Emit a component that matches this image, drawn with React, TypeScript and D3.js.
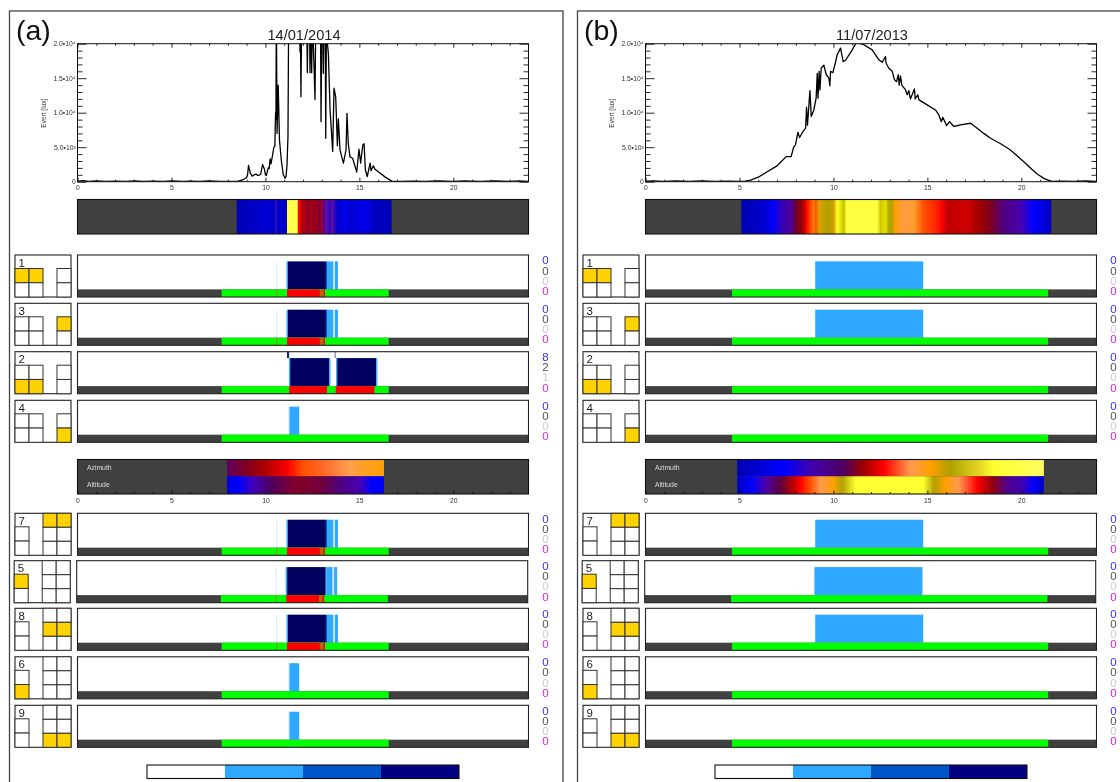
import React, { useRef, useEffect } from 'react';
import * as d3 from 'd3';

// hourly lux readings [hour, lux]; values above 2e4 run off the top
const luxA: [number, number][] = [
  [0, 80], [0.3, 150], [0.6, 40], [1, 100], [1.5, 30], [2, 90], [2.6, 40], [3, 110], [3.5, 30], [4, 90], [4.6, 50], [5, 100], [5.6, 30], [6, 90], [6.5, 40], [7, 100], [7.6, 40], [8.2, 50],
  [8.5, 60], [8.8, 250], [9.0, 600], [9.05, 1000], [9.1, 2350], [9.2, 1200], [9.3, 800], [9.4, 1000], [9.5, 1100], [9.6, 900], [9.7, 1000], [9.75, 1100], [9.85, 2500], [9.95, 1800], [10.0, 1000], [10.05, 900], [10.15, 2000], [10.2, 1900], [10.25, 3300], [10.3, 2600], [10.35, 3400], [10.45, 5000], [10.5, 5100], [10.54, 10000], [10.56, 9000], [10.58, 26000], [10.62, 7000], [10.68, 14000], [10.75, 6000], [10.85, 3000], [10.95, 1000], [11.05, 500], [11.1, 800], [11.15, 2500], [11.2, 6500], [11.25, 30000],
  [11.8, 30000], [11.84, 18800], [11.86, 24000], [11.89, 12300], [11.93, 24000], [12.2, 24000], [12.23, 15800], [12.27, 24000], [12.35, 24000], [12.37, 15800], [12.42, 24000], [12.46, 15800], [12.5, 24000], [12.64, 11900], [12.68, 24000], [12.93, 24000], [12.96, 8700], [13.0, 24000], [13.05, 24000], [13.08, 15700], [13.12, 24000], [13.18, 24000], [13.21, 6300], [13.25, 24000], [13.3, 20000], [13.35, 18500], [13.44, 10400], [13.58, 4400], [13.65, 13550], [13.74, 12300], [13.83, 5200], [13.88, 9100], [13.97, 4600], [14.15, 2700], [14.29, 4600], [14.34, 9900], [14.41, 5500], [14.5, 3600], [14.64, 3400], [14.86, 1400], [14.98, 4700], [15.07, 2700], [15.18, 5300], [15.25, 5500], [15.32, 1700], [15.42, 750], [15.57, 2700], [15.62, 1600], [15.74, 2300], [15.83, 1800], [16.01, 1450], [16.36, 700], [16.72, 90],
  [17.2, 40], [17.8, 90], [18.5, 40], [19.2, 100], [20, 50], [20.6, 110], [21.4, 40], [22.2, 100], [23, 60], [23.5, 120], [24, 60],
];
const luxB: [number, number][] = [
  [0, 70], [0.4, 130], [1, 50], [1.6, 100], [2.3, 50], [3, 110], [3.7, 50], [4.4, 80], [5, 40],
  [5.3, 90], [5.59, 240], [6.0, 650], [6.48, 1450], [7, 2300], [7.49, 3630], [7.75, 3630], [7.89, 5080], [7.98, 5300], [8.11, 7160], [8.2, 6400], [8.34, 7100], [8.52, 7750], [8.57, 10800], [8.62, 8200], [8.75, 13200], [8.82, 9440], [8.96, 10400], [9.08, 12100], [9.14, 15700], [9.18, 12100], [9.24, 16000], [9.28, 13300], [9.35, 16450], [9.49, 16900], [9.62, 15500], [9.76, 15000], [9.81, 13900], [9.85, 16000], [9.97, 15800], [10.1, 17200], [10.2, 18400], [10.38, 19360], [10.52, 17400], [10.64, 17600], [10.78, 18150], [11.0, 19100], [11.18, 20000],
  [11.35, 20100], [11.62, 19850], [12.06, 19100], [12.42, 17660], [12.6, 17300], [12.77, 18150], [12.8, 17200], [12.95, 16450], [13.13, 16000], [13.25, 14760], [13.36, 14500], [13.45, 15500], [13.5, 14000], [13.57, 15340], [13.64, 14000], [13.84, 13300], [13.93, 12600], [14.01, 13200], [14.1, 12000], [14.31, 13450], [14.35, 12000], [14.49, 12600], [14.55, 11860], [14.99, 11130], [15.43, 10400], [15.61, 9680], [15.74, 8700], [15.82, 9340], [16.02, 8130], [16.18, 8700], [16.41, 8000], [16.76, 8230], [17.3, 8470], [17.65, 7740], [18.0, 7000], [18.36, 6290], [18.9, 5500], [19.42, 4600], [19.8, 3700], [20.13, 2900], [20.5, 1950], [20.84, 1110], [21.2, 480], [21.46, 190], [21.64, 50],
  [22.2, 80], [22.8, 40], [23.4, 100], [24, 60],
];

// colour strips: [hour, colour] stops
const irradianceA: [number, string][] = [
  [8.47, '#0000b4'], [9.5, '#0000c8'], [10.0, '#0000d4'], [10.52, '#0000c8'], [10.56, '#8020a0'], [10.6, '#0000c8'], [11.15, '#0000d0'], [11.17, '#ffff50'], [11.69, '#ffff50'], [11.72, '#ffa000'], [11.75, '#ff0000'], [11.88, '#ff0000'], [11.9, '#b00010'], [12.2, '#a00018'], [12.3, '#800030'], [12.4, '#b00010'], [12.6, '#900020'], [12.75, '#a00010'], [12.85, '#700040'], [13.0, '#a00020'], [13.1, '#6000a0'], [13.3, '#5a10a0'], [13.4, '#3000c0'], [13.55, '#5a10a0'], [13.7, '#3000c0'], [13.85, '#0000d0'], [14.2, '#0000e0'], [14.3, '#0000ff'], [14.4, '#0000d0'], [15.0, '#0000e0'], [15.5, '#0000f0'], [15.6, '#0000c8'], [16.72, '#0000b4'],
];
const irradianceB: [number, string][] = [
  [5.09, '#0000b0'], [6.3, '#0000d0'], [6.83, '#0000ff'], [7.18, '#3000c0'], [7.8, '#500090'], [8.04, '#700020'], [8.43, '#b00000'], [8.55, '#ff0000'], [8.96, '#ff8000'], [9.05, '#ff5000'], [9.23, '#e0a000'], [9.67, '#b0a000'], [10.02, '#d0a000'], [10.2, '#ffff30'], [10.38, '#e8e800'], [10.55, '#c0c000'], [10.7, '#ffff40'], [12.33, '#ffff40'], [12.5, '#d0c800'], [12.77, '#e0e000'], [12.95, '#b0a800'], [13.18, '#c0a000'], [13.25, '#ffa000'], [13.75, '#ff9a40'], [14.28, '#ffa030'], [14.8, '#ff5000'], [15.52, '#ff2000'], [15.79, '#ff0000'], [16.05, '#c00000'], [17.1, '#d00000'], [17.8, '#a00000'], [18.36, '#800020'], [19.07, '#500080'], [19.96, '#4800b0'], [20.67, '#0000ff'], [21.59, '#0000c0'],
];
const azimuthA: [number, string][] = [
  [7.96, '#600060'], [9.0, '#800020'], [10, '#b00000'], [11, '#f00000'], [11.2, '#ff0000'], [12, '#ff5000'], [13.3, '#ff7030'], [14.5, '#ffa050'], [15, '#ffa030'], [16.31, '#ffa000'],
];
const altitudeA: [number, string][] = [
  [7.96, '#0000e0'], [8.6, '#0000ff'], [9.3, '#4000c0'], [10.3, '#500060'], [11.5, '#800030'], [12, '#800028'], [13, '#700040'], [14, '#500080'], [15, '#4800b0'], [15.7, '#0000ff'], [16.31, '#0000ff'],
];
const azimuthB: [number, string][] = [
  [4.88, '#0000b0'], [7.36, '#0000ff'], [8.78, '#4000b0'], [10.56, '#500060'], [11.62, '#a00000'], [12.69, '#ff0000'], [14.1, '#ff9a50'], [15.17, '#ffa000'], [16.2, '#b0a000'], [17.65, '#e0d020'], [18.5, '#ffff30'], [21.2, '#ffff60'],
];
const altitudeB: [number, string][] = [
  [4.88, '#0000c0'], [5.68, '#0000ff'], [6.47, '#5000a0'], [7.18, '#600040'], [7.89, '#c00000'], [8.25, '#ff0000'], [8.78, '#ff5000'], [9.31, '#ff9a50'], [10.02, '#ffa000'], [10.47, '#b0a000'], [11.18, '#ffff30'], [14.8, '#ffff30'], [15.34, '#b0a000'], [15.96, '#ffa000'], [16.67, '#ff9a50'], [17.65, '#ff0000'], [18.5, '#900010'], [19.25, '#500090'], [20.05, '#4000b0'], [20.67, '#0000ff'], [21.2, '#0000c0'],
];

// glare level bars: [start hour, end hour, level]
const levelColors = ['#cfe9ff', '#2ea9ff', '#0055c8', '#00005f'];
const legendColors = ['#ffffff', '#2ea9ff', '#0055c8', '#000080'];
const eventBarsA: [number, number, number][] = [
  [10.58, 10.63, 0], [11.12, 11.2, 1], [11.2, 13.22, 3], [13.22, 13.28, 2], [13.28, 13.62, 1], [13.62, 13.7, 0], [13.7, 13.86, 1],
];
const splitBarsA: [number, number, number][] = [
  [11.25, 11.32, 1], [11.32, 13.4, 3], [13.4, 13.46, 1], [13.76, 13.82, 1], [13.82, 15.9, 3], [15.9, 15.96, 1],
];
const shortBarsA: [number, number, number][] = [[11.22, 11.28, 0], [11.28, 11.8, 1]];
const bandBarsB: [number, number, number][] = [[9.03, 14.78, 1]];
const noBars: [number, number, number][] = [];

// status strip under each row: [start hour, end hour, colour]
const stripA: [number, number, string][] = [
  [7.67, 16.56, '#00ff00'], [10.58, 10.63, '#a08000'], [11.15, 12.9, '#ff0000'], [12.9, 13.08, '#c06000'], [13.08, 13.17, '#ff0000'],
];
const stripSplitA: [number, number, string][] = [[7.67, 16.56, '#00ff00'], [11.26, 13.28, '#ff0000'], [13.74, 15.8, '#ff0000']];
const stripGreenA: [number, number, string][] = [[7.67, 16.56, '#00ff00']];
const stripGreenB: [number, number, string][] = [[4.6, 21.43, '#00ff00']];

// short marks touching the top of row 2
const topMarksA: [number, number, string][] = [[11.15, 11.26, '#1a1a8c'], [13.68, 13.75, '#8c8cc8']];

const hourMajor = [0, 5, 10, 15, 20];
const hourMinor = [1, 2, 3, 4, 6, 7, 8, 9, 11, 12, 13, 14, 16, 17, 18, 19, 21, 22, 23];
const luxMajor = [0, 5000, 10000, 15000, 20000];
const luxMinor = [1000, 2000, 3000, 4000, 6000, 7000, 8000, 9000, 11000, 12000, 13000, 14000, 16000, 17000, 18000, 19000];
const luxLabels = ['0', '5.0•10³', '1.0•10⁴', '1.5•10⁴', '2.0•10⁴'];

const countColors = ['#3333ff', '#555555', '#cccccc', '#e020e0'];

const rowsA = [
  { station: '1', bars: eventBarsA, strip: stripA, counts: [0, 0, 0, 0] },
  { station: '3', bars: eventBarsA, strip: stripA, counts: [0, 0, 0, 0] },
  { station: '2', bars: splitBarsA, strip: stripSplitA, counts: [8, 2, 1, 0], marks: topMarksA },
  { station: '4', bars: shortBarsA, strip: stripGreenA, counts: [0, 0, 0, 0] },
  { station: '7', bars: eventBarsA, strip: stripA, counts: [0, 0, 0, 0] },
  { station: '5', bars: eventBarsA, strip: stripA, counts: [0, 0, 0, 0] },
  { station: '8', bars: eventBarsA, strip: stripA, counts: [0, 0, 0, 0] },
  { station: '6', bars: shortBarsA, strip: stripGreenA, counts: [0, 0, 0, 0] },
  { station: '9', bars: shortBarsA, strip: stripGreenA, counts: [0, 0, 0, 0] },
];
const rowsB = [
  { station: '1', bars: bandBarsB, strip: stripGreenB, counts: [0, 0, 0, 0] },
  { station: '3', bars: bandBarsB, strip: stripGreenB, counts: [0, 0, 0, 0] },
  { station: '2', bars: noBars, strip: stripGreenB, counts: [0, 0, 0, 0] },
  { station: '4', bars: noBars, strip: stripGreenB, counts: [0, 0, 0, 0] },
  { station: '7', bars: bandBarsB, strip: stripGreenB, counts: [0, 0, 0, 0] },
  { station: '5', bars: bandBarsB, strip: stripGreenB, counts: [0, 0, 0, 0] },
  { station: '8', bars: bandBarsB, strip: stripGreenB, counts: [0, 0, 0, 0] },
  { station: '6', bars: noBars, strip: stripGreenB, counts: [0, 0, 0, 0] },
  { station: '9', bars: noBars, strip: stripGreenB, counts: [0, 0, 0, 0] },
];

// highlighted cell [column, row] in each location sketch
const sketchCells: Record<string, [number, number][]> = {
  '1': [[0, 0], [1, 0]],
  '3': [[3, 0]],
  '2': [[0, 1], [1, 1]],
  '4': [[3, 1]],
  '7': [[2, 0], [3, 0]],
  '8': [[2, 1], [3, 1]],
  '9': [[2, 2], [3, 2]],
  '5': [[0, 0]],
  '6': [[0, 1]],
};
const upperStations = ['1', '3', '2', '4'];

const FONT = "'Liberation Sans', Arial, sans-serif";
const rowTops = [255, 303.3, 351.7, 400.3, 513.3, 560.7, 608.3, 656.8, 705.3];
const rowShift = [0, 0, 0, 0, 0, -0.8, 0, 0, 0];
const ROW_H = 42;
const STRIP_H = 7.6;
const panelB_dx = 568;

const x = d3.scaleLinear().domain([0, 24]).range([77.5, 528.5]);
const y = d3.scaleLinear().domain([0, 20000]).range([181.7, 43.7]);
const sketchX = d3.scaleBand<number>().domain([0, 1, 2, 3]).range([15, 71]);

function Axis({ make, transform }: { make: () => any; transform?: string }) {
  const ref = useRef<SVGGElement>(null);
  useEffect(() => {
    const g = d3.select(ref.current);
    g.call(make());
    g.attr('font-family', FONT).attr('font-size', 6.8);
    g.selectAll('.domain').remove();
    g.selectAll('line').attr('stroke', '#111').attr('stroke-width', 0.9);
    g.selectAll('text').attr('fill', '#333');
  }, []);
  return <g ref={ref} transform={transform} />;
}

function GradientBar({ id, stops, top, height }: { id: string; stops: [number, string][]; top: number; height: number }) {
  const start = stops[0][0];
  const end = stops[stops.length - 1][0];
  return (
    <g>
      <defs>
        <linearGradient id={id} gradientUnits="userSpaceOnUse" x1={x(start)} x2={x(end)} y1={0} y2={0}>
          {stops.map(([h, c], i) => (
            <stop key={i} offset={(h - start) / (end - start)} stopColor={c} />
          ))}
        </linearGradient>
      </defs>
      <rect x={x(start)} y={top} width={x(end) - x(start)} height={height} fill={`url(#${id})`} />
    </g>
  );
}

function Sketch({ station, top }: { station: string; top: number }) {
  const upper = upperStations.includes(station);
  const bw = sketchX.bandwidth();
  const cells = sketchCells[station];
  const h2 = (ROW_H - 13.5) / 2;
  const h3 = ROW_H / 3;
  const boxes: { col: number; row: number; px: number; py: number; h: number }[] = [];
  if (upper) {
    [0, 1, 3].forEach((col) =>
      [0, 1].forEach((row) => boxes.push({ col, row, px: sketchX(col)!, py: top + 13.5 + row * h2, h: h2 }))
    );
  } else {
    [0, 1].forEach((row) => boxes.push({ col: 0, row, px: sketchX(0)!, py: top + 13.5 + row * h2, h: h2 }));
    [2, 3].forEach((col) =>
      [0, 1, 2].forEach((row) => boxes.push({ col, row, px: sketchX(col)!, py: top + row * h3, h: h3 }))
    );
  }
  return (
    <g>
      <rect x={15} y={top} width={56} height={ROW_H} fill="#fff" stroke="#222" strokeWidth={1.1} />
      {boxes.map((b, i) => (
        <rect
          key={i}
          x={b.px}
          y={b.py}
          width={bw}
          height={b.h}
          fill={cells.some(([c, r]) => c === b.col && r === b.row) ? '#ffd200' : '#fff'}
          stroke="#333"
          strokeWidth={1}
        />
      ))}
      <text x={18.5} y={top + 11.5} fontSize={11.5} fontFamily={FONT} fill="#222">{station}</text>
    </g>
  );
}

function Row({ row, top, shift }: { row: any; top: number; shift: number }) {
  const barsTop = top + 6.4;
  const stripTop = top + ROW_H - STRIP_H;
  return (
    <g>
      <g transform={`translate(${shift},0)`}>
        <Sketch station={row.station} top={top} />
        <rect x={x(0)} y={top} width={x(24) - x(0)} height={ROW_H} fill="#fff" />
        {row.bars.map(([a, b, lvl]: [number, number, number], i: number) => (
          <rect key={i} x={x(a)} y={barsTop} width={x(b) - x(a)} height={stripTop - barsTop} fill={levelColors[lvl]} />
        ))}
        {(row.marks || []).map(([a, b, c]: [number, number, string], i: number) => (
          <rect key={i} x={x(a)} y={top} width={x(b) - x(a)} height={6.4} fill={c} />
        ))}
        <rect x={x(0)} y={stripTop} width={x(24) - x(0)} height={STRIP_H} fill="#404040" />
        {row.strip.map(([a, b, c]: [number, number, string], i: number) => (
          <rect key={i} x={x(a)} y={stripTop} width={x(b) - x(a)} height={STRIP_H} fill={c} />
        ))}
        <rect x={x(0)} y={top} width={x(24) - x(0)} height={ROW_H} fill="none" stroke="#222" strokeWidth={1.1} />
      </g>
      {row.counts.map((n: number, i: number) => (
        <text key={i} x={545.5} y={top + 9.3 + i * 10.2} fontSize={11.5} fontFamily={FONT} fill={countColors[i]} textAnchor="middle">{n}</text>
      ))}
    </g>
  );
}

function Panel({ name, date, lux, irradiance, azimuth, altitude, rows, dx, width }: any) {
  const luxLine = d3.line<[number, number]>().x((d) => x(d[0])).y((d) => y(d[1]));
  const id = `p${name}`;
  return (
    <g transform={`translate(${dx},0)`}>
      <rect x={9.5} y={11} width={width} height={800} fill="#fff" stroke="#444" strokeWidth={1.3} />
      <text x={16} y={40} fontSize={28.5} fontFamily={FONT} fill="#111">({name})</text>
      <text x={304} y={39.5} fontSize={14.6} fontFamily={FONT} fill="#222" textAnchor="middle">{date}</text>

      {/* lux curve */}
      <defs>
        <clipPath id={`${id}clip`}>
          <rect x={x(0)} y={y(20000)} width={x(24) - x(0)} height={y(0) - y(20000)} />
        </clipPath>
      </defs>
      <path d={luxLine(lux) as string} fill="none" stroke="#000" strokeWidth={1.3} strokeLinejoin="round" clipPath={`url(#${id}clip)`} />
      <rect x={x(0)} y={y(20000)} width={x(24) - x(0)} height={y(0) - y(20000)} fill="none" stroke="#111" strokeWidth={1} />
      <Axis transform={`translate(0,${y(0)})`} make={() => d3.axisBottom(x).tickValues(hourMajor).tickSize(-4).tickPadding(3.5)} />
      <Axis transform={`translate(0,${y(0)})`} make={() => d3.axisBottom(x).tickValues(hourMinor).tickSize(-2).tickFormat(() => '')} />
      <Axis transform={`translate(0,${y(20000)})`} make={() => d3.axisTop(x).tickValues(hourMajor).tickSize(-4).tickFormat(() => '')} />
      <Axis transform={`translate(0,${y(20000)})`} make={() => d3.axisTop(x).tickValues(hourMinor).tickSize(-2).tickFormat(() => '')} />
      <Axis transform={`translate(${x(0)},0)`} make={() => d3.axisLeft(y).tickValues(luxMajor).tickSize(-9).tickPadding(1.8).tickFormat((_: any, i: number) => luxLabels[i])} />
      <Axis transform={`translate(${x(0)},0)`} make={() => d3.axisLeft(y).tickValues(luxMinor).tickSize(-5).tickFormat(() => '')} />
      <Axis transform={`translate(${x(24)},0)`} make={() => d3.axisRight(y).tickValues(luxMajor).tickSize(-9).tickFormat(() => '')} />
      <Axis transform={`translate(${x(24)},0)`} make={() => d3.axisRight(y).tickValues(luxMinor).tickSize(-5).tickFormat(() => '')} />
      <text transform={`translate(46,${y(10000) + 0.5}) rotate(-90)`} fontSize={6.5} fontFamily={FONT} fill="#444" textAnchor="middle">Evert [lux]</text>

      {/* irradiance strip */}
      <rect x={x(0)} y={199.5} width={x(24) - x(0)} height={34.5} fill="#404040" />
      <GradientBar id={`${id}irr`} stops={irradiance} top={199.5} height={34.5} />
      <rect x={x(0)} y={199.5} width={x(24) - x(0)} height={34.5} fill="none" stroke="#111" strokeWidth={1.1} />

      {rows.map((r: any, i: number) => (
        <Row key={i} row={r} top={rowTops[i]} shift={rowShift[i]} />
      ))}

      {/* sun position strip */}
      <rect x={x(0)} y={459.5} width={x(24) - x(0)} height={34.5} fill="#404040" />
      <GradientBar id={`${id}az`} stops={azimuth} top={459.5} height={16.8} />
      <GradientBar id={`${id}al`} stops={altitude} top={476.3} height={17.7} />
      <rect x={x(0)} y={459.5} width={x(24) - x(0)} height={34.5} fill="none" stroke="#111" strokeWidth={1.1} />
      <text x={87} y={469.7} fontSize={6.8} fontFamily={FONT} fill="#ddd">Azimuth</text>
      <text x={87} y={486.7} fontSize={6.8} fontFamily={FONT} fill="#ddd">Altitude</text>
      <Axis transform="translate(0,494)" make={() => d3.axisBottom(x).tickValues(hourMajor).tickSize(-3.5).tickPadding(4)} />
      <Axis transform="translate(0,494)" make={() => d3.axisBottom(x).tickValues(hourMinor).tickSize(-2).tickFormat(() => '')} />

      {/* level legend */}
      <Legend />
    </g>
  );
}

function Legend() {
  const band = d3.scaleBand<number>().domain(d3.range(legendColors.length)).range([147, 459]);
  return (
    <g>
      {legendColors.map((c, i) => (
        <rect key={i} x={band(i)} y={765} width={band.bandwidth()} height={13.5} fill={c} />
      ))}
      <rect x={147} y={765} width={312} height={13.5} fill="none" stroke="#111" strokeWidth={1.1} />
    </g>
  );
}

export default function App() {
  return (
    <svg width={1120} height={782} style={{ position: 'absolute', left: 0, top: 0, background: '#fff' }}>
      <defs>
        <filter id="soft" filterUnits="userSpaceOnUse" x={0} y={0} width={1120} height={782}>
          <feGaussianBlur stdDeviation={0.35} />
        </filter>
      </defs>
      <g filter="url(#soft)">
        <Panel name="a" date="14/01/2014" lux={luxA} irradiance={irradianceA} azimuth={azimuthA} altitude={altitudeA} rows={rowsA} dx={0} width={553.5} />
        <Panel name="b" date="11/07/2013" lux={luxB} irradiance={irradianceB} azimuth={azimuthB} altitude={altitudeB} rows={rowsB} dx={panelB_dx} width={600} />
      </g>
    </svg>
  );
}
